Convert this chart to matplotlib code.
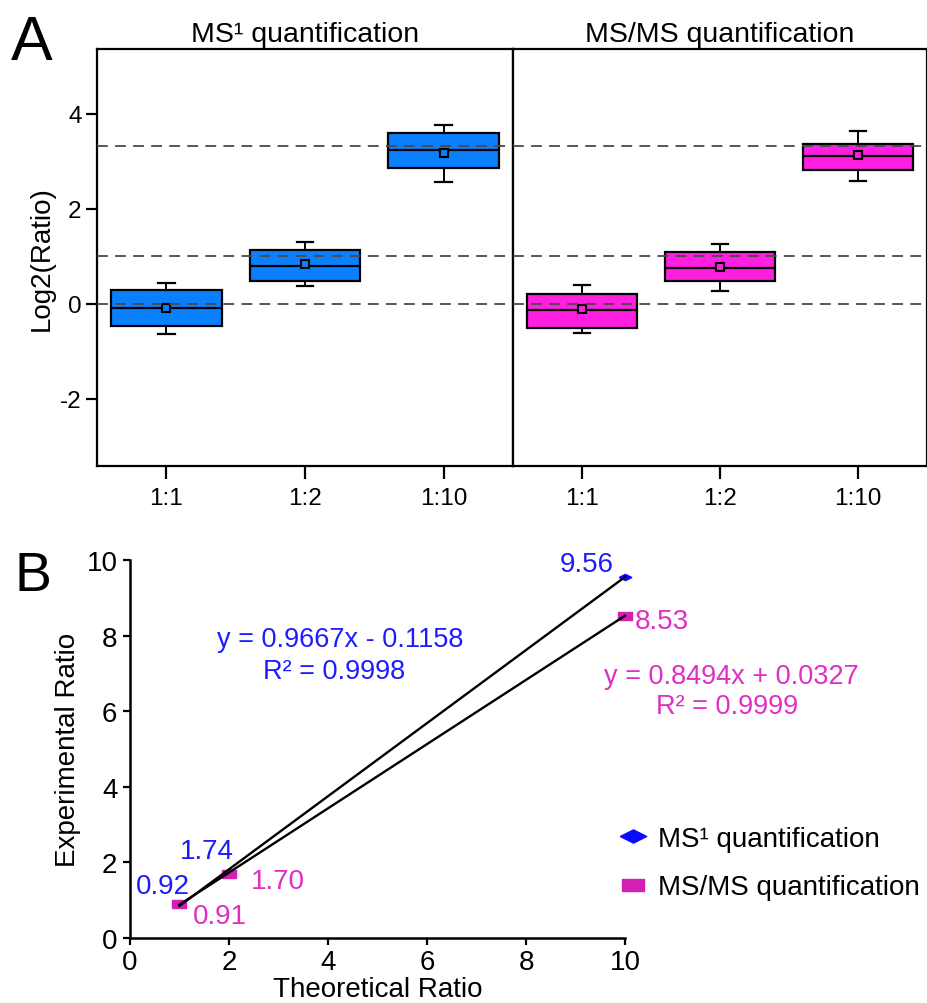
import matplotlib
matplotlib.use("Agg")
import matplotlib.pyplot as plt
from matplotlib.lines import Line2D
import numpy as np

plt.rcParams["font.family"] = ["Liberation Sans", "DejaVu Sans"]
plt.rcParams["axes.unicode_minus"] = False

# ---- Panel A: log2 ratio distributions ----
groups = ["1:1", "1:2", "1:10"]
expected_log2 = [0.0, 1.0, np.log2(10)]

ms1_whislo = [-0.64, 0.38, 2.57]
ms1_q1 = [-0.47, 0.48, 2.85]
ms1_med = [-0.09, 0.80, 3.24]
ms1_mean = [-0.10, 0.84, 3.17]
ms1_q3 = [0.29, 1.12, 3.59]
ms1_whishi = [0.43, 1.29, 3.76]

msms_whislo = [-0.62, 0.26, 2.59]
msms_q1 = [-0.52, 0.48, 2.82]
msms_med = [-0.14, 0.75, 3.10]
msms_mean = [-0.11, 0.78, 3.13]
msms_q3 = [0.20, 1.08, 3.35]
msms_whishi = [0.39, 1.26, 3.64]

# ---- Panel B: experimental vs theoretical ratio ----
theoretical = [1, 2, 10]
ms1_ratio = [0.92, 1.74, 9.56]
msms_ratio = [0.91, 1.70, 8.53]
ms1_fit = (0.9667, -0.1158, 0.9998)
msms_fit = (0.8494, 0.0327, 0.9999)

BLUE_BOX = "#0a80ff"
MAG_BOX = "#ff1fe0"
BLUE_TXT = "#1c1cff"
MAG_TXT = "#e02ec4"
BLUE_MK = "#0a0aff"
MAG_MK = "#d21fb4"

W, H = 928, 1004
fig = plt.figure(figsize=(W / 100, H / 100), dpi=100)


def fx(px):
    return px / W


def fy(py):
    return 1 - py / H


def stats(lo, q1, med, mean, q3, hi):
    return [dict(whislo=a, q1=b, med=c, mean=d, q3=e, whishi=f, fliers=[])
            for a, b, c, d, e, f in zip(lo, q1, med, mean, q3, hi)]


axA1 = fig.add_axes([fx(97), fy(467), fx(513 - 97), fy(50) - fy(467)])
axA2 = fig.add_axes([fx(513), fy(467), fx(927 - 513), fy(50) - fy(467)])

panels = [
    (axA1, stats(ms1_whislo, ms1_q1, ms1_med, ms1_mean, ms1_q3, ms1_whishi),
     BLUE_BOX, "MS\u00b9 quantification"),
    (axA2, stats(msms_whislo, msms_q1, msms_med, msms_mean, msms_q3, msms_whishi),
     MAG_BOX, "MS/MS quantification"),
]
for ax, st, col, title in panels:
    ax.bxp(st, positions=[1, 2, 3], widths=0.8, capwidths=0.12,
           showmeans=True, showfliers=False, patch_artist=True,
           boxprops=dict(facecolor=col, edgecolor="black", linewidth=1.6),
           medianprops=dict(color="black", linewidth=1.6),
           whiskerprops=dict(color="black", linewidth=1.4),
           capprops=dict(color="black", linewidth=1.6),
           meanprops=dict(marker="s", markersize=6, markerfacecolor=col,
                          markeredgecolor="black", markeredgewidth=1.5))
    for v in expected_log2:
        ax.axhline(v, color="#4a4a4a", linewidth=1.3, dashes=(6, 4), zorder=5)
    ax.set_xlim(0.5, 3.5)
    ax.set_ylim(-3.42, 5.36)
    ax.set_xticks([1, 2, 3])
    ax.set_xticklabels(groups, fontsize=17.5)
    ax.tick_params(axis="x", direction="out", length=9, width=1.6, pad=6)
    for s in ax.spines.values():
        s.set_linewidth(1.6)
    ax.set_title(title, fontsize=20.5, pad=6)

axA1.set_yticks([-2, 0, 2, 4])
axA1.tick_params(axis="y", direction="out", length=8, width=1.6, labelsize=17.5, pad=3)
axA1.set_ylabel("Log2(Ratio)", fontsize=20, labelpad=4)
axA2.set_yticks([])

fig.text(fx(32), fy(43), "A", fontsize=45, ha="center", va="center")

# Panel B
axB = fig.add_axes([fx(130), fy(939), fx(625 - 130), fy(561) - fy(939)])
diamond = [(-1, 0), (0, 0.5), (1, 0), (0, -0.5), (-1, 0)]
rect = [(-1, -0.55), (1, -0.55), (1, 0.55), (-1, 0.55), (-1, -0.55)]

axB.plot(theoretical, ms1_ratio, linestyle="none", marker=diamond, markersize=9,
         color=BLUE_MK, zorder=3, clip_on=False)
axB.plot(theoretical, msms_ratio, linestyle="none", marker=rect, markersize=9.5,
         color=MAG_MK, zorder=4, clip_on=False)

xfit = np.array([theoretical[0], theoretical[-1]], dtype=float)
for slope, icpt, _ in (ms1_fit, msms_fit):
    axB.plot(xfit, slope * xfit + icpt, color="black", linewidth=1.7, zorder=5,
             clip_on=False)

axB.set_xlim(0, 10)
axB.set_ylim(0, 10)
axB.set_xticks([0, 2, 4, 6, 8, 10])
axB.set_yticks([0, 2, 4, 6, 8, 10])
axB.spines["top"].set_visible(False)
axB.spines["right"].set_visible(False)
for s in ("left", "bottom"):
    axB.spines[s].set_linewidth(1.8)
axB.tick_params(axis="both", direction="out", length=5, width=1.6, labelsize=20)
axB.tick_params(axis="y", pad=4)
axB.tick_params(axis="x", pad=3)
axB.set_xlabel("Theoretical Ratio", fontsize=20, labelpad=1)
axB.set_ylabel("Experimental Ratio", fontsize=20, labelpad=4)

# value labels beside each point
blue_offsets = [(-0.34, 0.46), (-0.45, 0.56), (-0.77, 0.33)]
mag_offsets = [(0.82, -0.33), (0.99, -0.19), (0.75, -0.14)]
for x, y, (dx, dy) in zip(theoretical, ms1_ratio, blue_offsets):
    axB.text(x + dx, y + dy, f"{y:.2f}", color=BLUE_TXT, fontsize=20,
             ha="center", va="center")
for x, y, (dx, dy) in zip(theoretical, msms_ratio, mag_offsets):
    axB.text(x + dx, y + dy, f"{y:.2f}", color=MAG_TXT, fontsize=20,
             ha="center", va="center")


def eq_text(slope, icpt):
    sign = "-" if icpt < 0 else "+"
    return f"y = {slope:.4f}x {sign} {abs(icpt):.4f}"


axB.text(4.24, 7.91, eq_text(*ms1_fit[:2]), color=BLUE_TXT, fontsize=19.5,
         ha="center", va="center")
axB.text(4.12, 7.06, f"R\u00b2 = {ms1_fit[2]:.4f}", color=BLUE_TXT, fontsize=19.5,
         ha="center", va="center")
axB.text(12.14, 6.93, eq_text(*msms_fit[:2]), color=MAG_TXT, fontsize=19.5,
         ha="center", va="center")
axB.text(12.06, 6.14, f"R\u00b2 = {msms_fit[2]:.4f}", color=MAG_TXT, fontsize=19.5,
         ha="center", va="center")

handles = [
    Line2D([], [], linestyle="none", marker=diamond, markersize=19, color=BLUE_MK),
    Line2D([], [], linestyle="none", marker=rect, markersize=16.5, color=MAG_MK),
]
fig.legend(handles, ["MS\u00b9 quantification", "MS/MS quantification"],
           loc="upper left", bbox_to_anchor=(fx(616), fy(827)),
           frameon=False, fontsize=20, borderpad=0, borderaxespad=0,
           handlelength=1.2, handletextpad=0.3, labelspacing=0.8)

fig.text(fx(33), fy(577), "B", fontsize=40, ha="center", va="center")

fig.savefig("out.png", dpi=100, facecolor="white")
